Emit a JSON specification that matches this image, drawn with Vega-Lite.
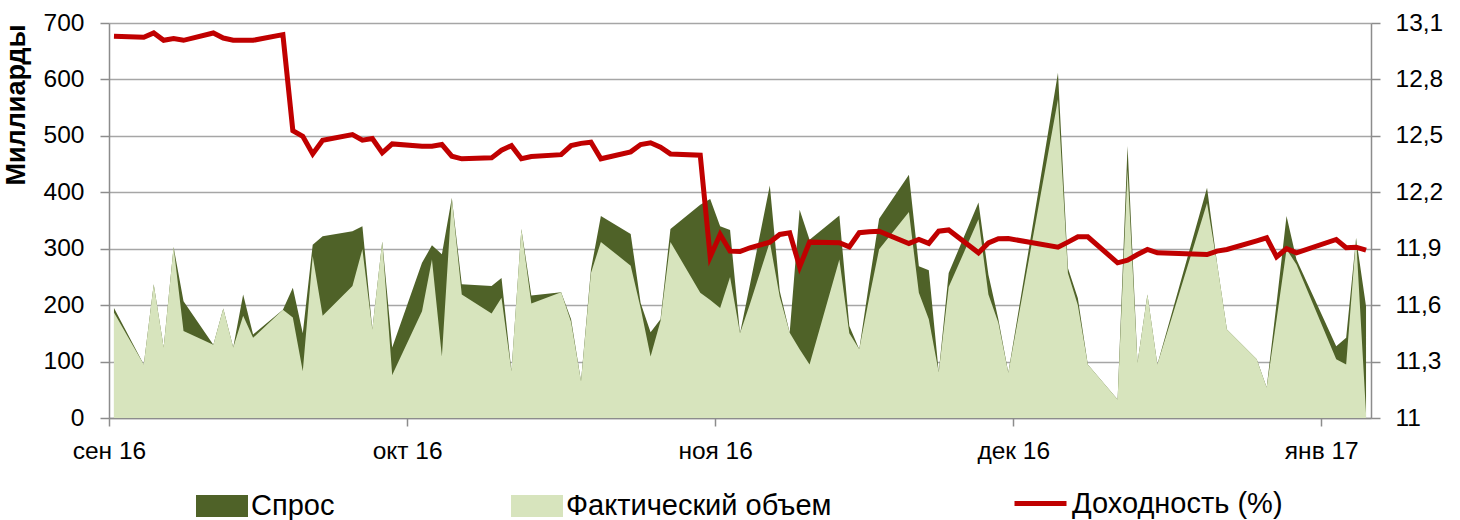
{
  "$schema": "https://vega.github.io/schema/vega-lite/v6.json",
  "width": 1262,
  "height": 395,
  "autosize": {"type": "none"},
  "padding": {"left": 109, "top": 23, "right": 89, "bottom": 102},
  "background": "white",
  "config": {
    "view": {"stroke": null},
    "font": "Liberation Sans",
    "axis": {"labelFont": "Liberation Sans", "labelFontSize": 24.5, "labelColor": "#000000", "titleFont": "Liberation Sans", "titleColor": "#000000", "labelFlush": false, "labelOverlap": false}
  },
  "data": {"values": [
    {"d": "2016/09/01", "demand": 195, "actual": 187, "yld": 13.03},
    {"d": "2016/09/04", "demand": 95, "actual": 95, "yld": 13.024},
    {"d": "2016/09/05", "demand": 237, "actual": 237, "yld": 13.047},
    {"d": "2016/09/06", "demand": 125, "actual": 125, "yld": 13.008},
    {"d": "2016/09/07", "demand": 303, "actual": 303, "yld": 13.017},
    {"d": "2016/09/08", "demand": 207, "actual": 154, "yld": 13.008},
    {"d": "2016/09/11", "demand": 130, "actual": 130, "yld": 13.047},
    {"d": "2016/09/12", "demand": 194, "actual": 194, "yld": 13.02},
    {"d": "2016/09/13", "demand": 125, "actual": 125, "yld": 13.008},
    {"d": "2016/09/14", "demand": 219, "actual": 181, "yld": 13.008},
    {"d": "2016/09/15", "demand": 148, "actual": 142, "yld": 13.008},
    {"d": "2016/09/18", "demand": 192, "actual": 192, "yld": 13.038},
    {"d": "2016/09/19", "demand": 231, "actual": 178, "yld": 12.528},
    {"d": "2016/09/20", "demand": 150, "actual": 83, "yld": 12.498},
    {"d": "2016/09/21", "demand": 307, "actual": 287, "yld": 12.404},
    {"d": "2016/09/22", "demand": 322, "actual": 181, "yld": 12.477},
    {"d": "2016/09/25", "demand": 331, "actual": 234, "yld": 12.507},
    {"d": "2016/09/26", "demand": 340, "actual": 299, "yld": 12.477},
    {"d": "2016/09/27", "demand": 157, "actual": 157, "yld": 12.486},
    {"d": "2016/09/28", "demand": 313, "actual": 313, "yld": 12.41},
    {"d": "2016/09/29", "demand": 125, "actual": 76, "yld": 12.457},
    {"d": "2016/10/02", "demand": 275, "actual": 189, "yld": 12.445},
    {"d": "2016/10/03", "demand": 306, "actual": 281, "yld": 12.445},
    {"d": "2016/10/04", "demand": 290, "actual": 109, "yld": 12.454},
    {"d": "2016/10/05", "demand": 390, "actual": 390, "yld": 12.392},
    {"d": "2016/10/06", "demand": 237, "actual": 219, "yld": 12.378},
    {"d": "2016/10/09", "demand": 234, "actual": 185, "yld": 12.383},
    {"d": "2016/10/10", "demand": 248, "actual": 213, "yld": 12.424},
    {"d": "2016/10/11", "demand": 83, "actual": 83, "yld": 12.448},
    {"d": "2016/10/12", "demand": 335, "actual": 335, "yld": 12.378},
    {"d": "2016/10/13", "demand": 217, "actual": 203, "yld": 12.39},
    {"d": "2016/10/16", "demand": 223, "actual": 223, "yld": 12.4},
    {"d": "2016/10/17", "demand": 175, "actual": 170, "yld": 12.448},
    {"d": "2016/10/18", "demand": 65, "actual": 65, "yld": 12.46},
    {"d": "2016/10/19", "demand": 263, "actual": 257, "yld": 12.466},
    {"d": "2016/10/20", "demand": 358, "actual": 312, "yld": 12.378},
    {"d": "2016/10/23", "demand": 326, "actual": 270, "yld": 12.415},
    {"d": "2016/10/24", "demand": 204, "actual": 195, "yld": 12.454},
    {"d": "2016/10/25", "demand": 152, "actual": 109, "yld": 12.463},
    {"d": "2016/10/26", "demand": 175, "actual": 172, "yld": 12.44},
    {"d": "2016/10/27", "demand": 335, "actual": 312, "yld": 12.404},
    {"d": "2016/10/30", "demand": 378, "actual": 222, "yld": 12.397},
    {"d": "2016/10/31", "demand": 388, "actual": 209, "yld": 11.857},
    {"d": "2016/11/01", "demand": 340, "actual": 195, "yld": 11.976},
    {"d": "2016/11/02", "demand": 333, "actual": 250, "yld": 11.887},
    {"d": "2016/11/03", "demand": 150, "actual": 150, "yld": 11.885},
    {"d": "2016/11/04", "demand": 236, "actual": 202, "yld": 11.905},
    {"d": "2016/11/06", "demand": 412, "actual": 312, "yld": 11.935},
    {"d": "2016/11/07", "demand": 225, "actual": 215, "yld": 11.976},
    {"d": "2016/11/08", "demand": 151, "actual": 151, "yld": 11.985},
    {"d": "2016/11/09", "demand": 369, "actual": 122, "yld": 11.804},
    {"d": "2016/11/10", "demand": 316, "actual": 95, "yld": 11.935},
    {"d": "2016/11/13", "demand": 359, "actual": 281, "yld": 11.932},
    {"d": "2016/11/14", "demand": 163, "actual": 150, "yld": 11.91},
    {"d": "2016/11/15", "demand": 122, "actual": 122, "yld": 11.985},
    {"d": "2016/11/16", "demand": 240, "actual": 213, "yld": 11.99},
    {"d": "2016/11/17", "demand": 353, "actual": 299, "yld": 11.993},
    {"d": "2016/11/20", "demand": 431, "actual": 365, "yld": 11.928},
    {"d": "2016/11/21", "demand": 269, "actual": 222, "yld": 11.949},
    {"d": "2016/11/22", "demand": 262, "actual": 175, "yld": 11.928},
    {"d": "2016/11/23", "demand": 81, "actual": 81, "yld": 11.993},
    {"d": "2016/11/24", "demand": 257, "actual": 232, "yld": 12.0},
    {"d": "2016/11/27", "demand": 382, "actual": 352, "yld": 11.878},
    {"d": "2016/11/28", "demand": 254, "actual": 219, "yld": 11.931},
    {"d": "2016/11/29", "demand": 175, "actual": 169, "yld": 11.953},
    {"d": "2016/11/30", "demand": 80, "actual": 80, "yld": 11.954},
    {"d": "2016/12/05", "demand": 612, "actual": 565, "yld": 11.908},
    {"d": "2016/12/06", "demand": 266, "actual": 257, "yld": 11.935},
    {"d": "2016/12/07", "demand": 212, "actual": 200, "yld": 11.963},
    {"d": "2016/12/08", "demand": 95, "actual": 95, "yld": 11.963},
    {"d": "2016/12/11", "demand": 33, "actual": 33, "yld": 11.825},
    {"d": "2016/12/12", "demand": 482, "actual": 440, "yld": 11.839},
    {"d": "2016/12/13", "demand": 98, "actual": 98, "yld": 11.869},
    {"d": "2016/12/14", "demand": 219, "actual": 219, "yld": 11.896},
    {"d": "2016/12/15", "demand": 95, "actual": 95, "yld": 11.878},
    {"d": "2016/12/20", "demand": 408, "actual": 381, "yld": 11.869},
    {"d": "2016/12/21", "demand": 275, "actual": 275, "yld": 11.887},
    {"d": "2016/12/22", "demand": 157, "actual": 157, "yld": 11.896},
    {"d": "2016/12/25", "demand": 104, "actual": 104, "yld": 11.942},
    {"d": "2016/12/26", "demand": 54, "actual": 54, "yld": 11.958},
    {"d": "2016/12/27", "demand": 204, "actual": 175, "yld": 11.857},
    {"d": "2016/12/28", "demand": 358, "actual": 299, "yld": 11.9},
    {"d": "2016/12/29", "demand": 281, "actual": 272, "yld": 11.878},
    {"d": "2017/01/02", "demand": 127, "actual": 104, "yld": 11.949},
    {"d": "2017/01/03", "demand": 142, "actual": 95, "yld": 11.905},
    {"d": "2017/01/04", "demand": 319, "actual": 319, "yld": 11.908},
    {"d": "2017/01/05", "demand": 198, "actual": 8, "yld": 11.892}
  ]},
  "encoding": {
    "x": {
      "field": "d",
      "type": "temporal",
      "title": null,
      "scale": {"domain": [{"year": 2016, "month": 8, "date": 31, "hours": 12}, {"year": 2017, "month": 1, "date": 5, "hours": 12}]},
      "axis": {
        "values": [
          {"year": 2016, "month": 9, "date": 1},
          {"year": 2016, "month": 10, "date": 1},
          {"year": 2016, "month": 11, "date": 1},
          {"year": 2016, "month": 12, "date": 1},
          {"year": 2017, "month": 1, "date": 1}
        ],
        "grid": false,
        "tickSize": 8,
        "tickWidth": 1.5,
        "tickColor": "#8c8c8c",
        "tickOffset": -5,
        "domainColor": "#8c8c8c",
        "domainWidth": 1.5,
        "labelPadding": 13,
        "labelExpr": "['янв','фев','мар','апр','май','июн','июл','авг','сен','окт','ноя','дек'][month(datum.value)] + ' ' + timeFormat(datum.value, '%y')"
      }
    }
  },
  "layer": [
    {
      "layer": [
        {
          "mark": {"type": "area", "interpolate": "linear", "opacity": 1},
          "encoding": {
            "y": {
              "field": "demand",
              "type": "quantitative",
              "title": "Миллиарды",
              "scale": {"domain": [0, 700], "nice": false},
              "axis": {
                "orient": "left",
                "values": [0, 100, 200, 300, 400, 500, 600, 700],
                "grid": true,
                "gridColor": "#a6a6a6",
                "gridWidth": 1.5,
                "domainColor": "#8c8c8c",
                "domainWidth": 1.5,
                "tickColor": "#8c8c8c",
                "tickWidth": 1.5,
                "tickSize": 9,
                "labelPadding": 16,
                "titleFontSize": 27,
                "titleFontWeight": "bold",
                "titleAngle": -90,
                "titleAlign": "right",
                "titleBaseline": "middle",
                "titleX": -93,
                "titleY": 1
              }
            },
            "fill": {
              "datum": "Спрос",
              "type": "nominal",
              "scale": {"domain": ["Спрос", "Фактический объем"], "range": ["#4f6228", "#d7e4bd"]},
              "legend": {
                "title": null,
                "orient": "none",
                "legendX": 87,
                "legendY": 457,
                "direction": "horizontal",
                "columns": 2,
                "columnPadding": 176,
                "padding": 0,
                "labelFont": "Liberation Sans",
                "labelFontSize": 29,
                "labelColor": "#000000",
                "labelLimit": 0,
                "labelOffset": 3,
                "symbolSize": 2704,
                "symbolType": "M-1,-0.42L1,-0.42L1,0.42L-1,0.42Z",
                "symbolStrokeWidth": 0,
                "symbolOpacity": 1
              }
            }
          }
        },
        {
          "mark": {"type": "area", "interpolate": "linear", "opacity": 1},
          "encoding": {
            "y": {"field": "actual", "type": "quantitative", "title": "Миллиарды"},
            "fill": {"datum": "Фактический объем", "type": "nominal"}
          }
        }
      ]
    },
    {
      "mark": {"type": "line", "strokeWidth": 5, "interpolate": "linear"},
      "encoding": {
        "y": {
          "field": "yld",
          "type": "quantitative",
          "title": null,
          "scale": {"domain": [11, 13.1], "nice": false, "zero": false},
          "axis": {
            "orient": "right",
            "values": [11, 11.3, 11.6, 11.9, 12.2, 12.5, 12.8, 13.1],
            "grid": false,
            "domainColor": "#8c8c8c",
            "domainWidth": 1.5,
            "tickColor": "#8c8c8c",
            "tickWidth": 1.5,
            "tickSize": 9,
            "labelPadding": 15,
            "labelExpr": "datum.value == 11 ? '11' : replace(format(datum.value, '.1f'), '.', ',')"
          }
        },
        "stroke": {
          "datum": "Доходность (%)",
          "type": "nominal",
          "scale": {"domain": ["Доходность (%)"], "range": ["#c00000"]},
          "legend": {
            "title": null,
            "orient": "none",
            "legendX": 903,
            "legendY": 452,
            "direction": "horizontal",
            "padding": 0,
            "labelFont": "Liberation Sans",
            "labelFontSize": 29,
            "labelColor": "#000000",
            "labelLimit": 0,
            "labelOffset": 3,
            "symbolSize": 2704,
            "symbolType": "stroke",
            "symbolStrokeWidth": 5
          }
        }
      }
    }
  ],
  "resolve": {"scale": {"y": "independent"}}
}
